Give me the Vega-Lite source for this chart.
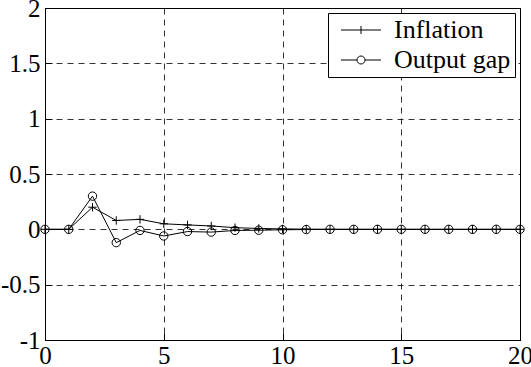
{
  "$schema": "https://vega.github.io/schema/vega-lite/v6.json",
  "width": 475,
  "height": 332,
  "autosize": {"type": "none"},
  "padding": {"left": 45, "top": 8, "right": 11, "bottom": 27},
  "background": "white",
  "config": {
    "view": {"stroke": "black", "strokeWidth": 1}
  },
  "data": {
    "values": [
      {"t": 0, "v": 0, "series": "Inflation"},
      {"t": 1, "v": 0, "series": "Inflation"},
      {"t": 2, "v": 0.2, "series": "Inflation"},
      {"t": 3, "v": 0.08, "series": "Inflation"},
      {"t": 4, "v": 0.09, "series": "Inflation"},
      {"t": 5, "v": 0.05, "series": "Inflation"},
      {"t": 6, "v": 0.04, "series": "Inflation"},
      {"t": 7, "v": 0.03, "series": "Inflation"},
      {"t": 8, "v": 0.015, "series": "Inflation"},
      {"t": 9, "v": 0.008, "series": "Inflation"},
      {"t": 10, "v": 0.004, "series": "Inflation"},
      {"t": 11, "v": 0.002, "series": "Inflation"},
      {"t": 12, "v": 0, "series": "Inflation"},
      {"t": 13, "v": 0, "series": "Inflation"},
      {"t": 14, "v": 0, "series": "Inflation"},
      {"t": 15, "v": 0, "series": "Inflation"},
      {"t": 16, "v": 0, "series": "Inflation"},
      {"t": 17, "v": 0, "series": "Inflation"},
      {"t": 18, "v": 0, "series": "Inflation"},
      {"t": 19, "v": 0, "series": "Inflation"},
      {"t": 20, "v": 0, "series": "Inflation"},
      {"t": 0, "v": 0, "series": "Output gap"},
      {"t": 1, "v": 0, "series": "Output gap"},
      {"t": 2, "v": 0.3, "series": "Output gap"},
      {"t": 3, "v": -0.12, "series": "Output gap"},
      {"t": 4, "v": -0.01, "series": "Output gap"},
      {"t": 5, "v": -0.06, "series": "Output gap"},
      {"t": 6, "v": -0.02, "series": "Output gap"},
      {"t": 7, "v": -0.025, "series": "Output gap"},
      {"t": 8, "v": -0.01, "series": "Output gap"},
      {"t": 9, "v": -0.008, "series": "Output gap"},
      {"t": 10, "v": -0.004, "series": "Output gap"},
      {"t": 11, "v": -0.002, "series": "Output gap"},
      {"t": 12, "v": 0, "series": "Output gap"},
      {"t": 13, "v": 0, "series": "Output gap"},
      {"t": 14, "v": 0, "series": "Output gap"},
      {"t": 15, "v": 0, "series": "Output gap"},
      {"t": 16, "v": 0, "series": "Output gap"},
      {"t": 17, "v": 0, "series": "Output gap"},
      {"t": 18, "v": 0, "series": "Output gap"},
      {"t": 19, "v": 0, "series": "Output gap"},
      {"t": 20, "v": 0, "series": "Output gap"}
    ]
  },
  "encoding": {
    "x": {
      "field": "t",
      "type": "quantitative",
      "title": null,
      "scale": {"domain": [0, 20], "nice": false, "zero": false},
      "axis": {
        "values": [0, 5, 10, 15, 20],
        "labelFont": "Liberation Serif",
        "labelFontSize": 25,
        "labelColor": "black",
        "labelPadding": 10,
        "labelFlush": false,
        "domainColor": "black",
        "tickColor": "black",
        "tickSize": -7,
        "grid": true,
        "gridColor": "black",
        "gridOpacity": 0.8,
        "gridDash": [6, 5]
      }
    },
    "y": {
      "field": "v",
      "type": "quantitative",
      "title": null,
      "scale": {"domain": [-1, 2], "nice": false},
      "axis": {
        "values": [-1, -0.5, 0, 0.5, 1, 1.5, 2],
        "labelExpr": "replace(format(datum.value, '~g'), '\u2212', '-')",
        "labelFont": "Liberation Serif",
        "labelFontSize": 25,
        "labelColor": "black",
        "labelPadding": 12,
        "labelFlush": false,
        "domainColor": "black",
        "tickColor": "black",
        "tickSize": -7,
        "grid": true,
        "gridColor": "black",
        "gridOpacity": 0.8,
        "gridDash": [6, 5]
      }
    }
  },
  "layer": [
    {
      "mark": {"type": "line", "stroke": "black", "strokeWidth": 1},
      "encoding": {"detail": {"field": "series", "type": "nominal"}}
    },
    {
      "transform": [{"filter": "datum.series === 'Inflation'"}],
      "mark": {"type": "point", "shape": "M-1,0H1M0,-1V1", "filled": false, "stroke": "black", "strokeWidth": 1, "size": 70, "opacity": 1}
    },
    {
      "transform": [{"filter": "datum.series === 'Output gap'"}],
      "mark": {"type": "point", "shape": "circle", "filled": false, "stroke": "black", "strokeWidth": 1, "size": 70, "opacity": 1}
    },
    {
      "description": "Legend key: line with marker for each series; draws no points in the plot.",
      "transform": [{"filter": "datum.t < 0"}],
      "mark": {"type": "point", "filled": false, "stroke": "black", "strokeWidth": 1, "opacity": 1},
      "encoding": {
        "shape": {
          "field": "series",
          "type": "nominal",
          "scale": {
            "domain": ["Inflation", "Output gap"],
            "range": [
              "M-0.333,0H3M1.333,-0.333V0.333",
              "M-0.333,0H1M1.667,0H3M1.667,0A0.333,0.333 0 1,1 1,0A0.333,0.333 0 1,1 1.667,0"
            ]
          },
          "legend": {
            "title": null,
            "orient": "top-right",
            "offset": 5,
            "padding": 4,
            "rowPadding": 4,
            "strokeColor": "black",
            "fillColor": "white",
            "labelFont": "Liberation Serif",
            "labelFontSize": 26,
            "labelColor": "black",
            "labelOffset": 36,
            "symbolSize": 576,
            "symbolStrokeColor": "black",
            "symbolStrokeWidth": 1,
            "symbolFillColor": "transparent",
            "symbolOpacity": 1
          }
        }
      }
    }
  ]
}
